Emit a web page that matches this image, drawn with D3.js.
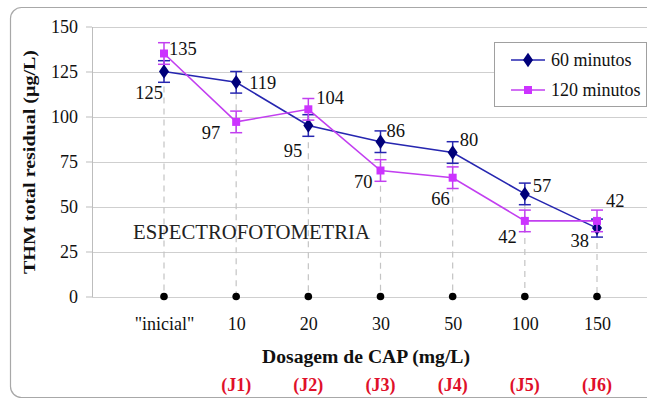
<!DOCTYPE html>
<html>
<head>
<meta charset="utf-8">
<script src="https://cdn.jsdelivr.net/npm/d3@7/dist/d3.min.js"></script>
<style>
  html, body { margin: 0; padding: 0; background: #fff; }
  svg { display: block; }
  svg text { font-family: "Liberation Serif", "Times New Roman", serif !important; }
</style>
</head>
<body>
<svg id="chart" width="647" height="401"></svg>
<script>
// Categories (CAP dosage) and their jar codes
const categories = ['"inicial"', "10", "20", "30", "50", "100", "150"];
const jarCodes = ["", "(J1)", "(J2)", "(J3)", "(J4)", "(J5)", "(J6)"];

// Residual total THM (µg/L) after each contact time
const series60 = [125, 119, 95, 86, 80, 57, 38];
const series120 = [135, 97, 104, 70, 66, 42, 42];

// Error bar half-widths (µg/L)
const err60 = [6, 6, 6, 6, 6, 6, 5];
const err120 = [6, 6, 6, 6, 6, 6, 6];

const yTicks = [0, 25, 50, 75, 100, 125, 150];
const legendNames = ["60 minutos", "120 minutos"];

// Label placement for each value: [dx, dy, anchor]
const place60 = [[-1, 27.5, "end"], [13, 7, "start"], [-6, 31, "end"], [6, -5, "start"], [7, -6.5, "start"], [8, -2, "start"], [-8, 19, "end"]];
const place120 = [[5, 1.5, "start"], [-16, 17, "end"], [8, -5, "start"], [-8, 17.5, "end"], [-3, 27, "end"], [-8, 22, "end"], [9, -14, "start"]];

const SERIF = "'Liberation Serif', 'Times New Roman', serif";
const svg = d3.select("#chart");

// Outer frame with rounded corners
svg.append("rect")
  .attr("x", 10.5).attr("y", 7.5)
  .attr("width", 700).attr("height", 390)
  .attr("rx", 11).attr("ry", 11)
  .attr("fill", "none").attr("stroke", "#a8a8a8").attr("stroke-width", 1.2);

const plotLeft = 92, plotRight = 647;
const x = d3.scalePoint().domain(categories).range([164, 597]);
const y = d3.scaleLinear().domain([0, 150]).range([296.5, 26.5]);

// Horizontal gridlines
svg.append("g").selectAll("line").data(yTicks).join("line")
  .attr("x1", plotLeft).attr("x2", plotRight)
  .attr("y1", d => Math.round(y(d)) + 0.5).attr("y2", d => Math.round(y(d)) + 0.5)
  .attr("stroke", "#cfcfcf").attr("stroke-width", 1.2);

// Y axis
const yAxis = d3.axisLeft(y).tickValues(yTicks).tickSize(6).tickPadding(8).tickSizeOuter(0);
const gY = svg.append("g").attr("transform", `translate(${plotLeft},0)`).call(yAxis);
gY.attr("font-family", SERIF);
gY.select(".domain").attr("stroke", "#bdbdbd");
gY.selectAll(".tick line").attr("stroke", "#bdbdbd");
gY.selectAll(".tick text").style("font-family", SERIF)
  .attr("font-size", 18).attr("fill", "#111");

// X axis labels
const xAxis = d3.axisBottom(x).tickSize(0).tickPadding(21);
const gX = svg.append("g").attr("transform", `translate(0,${y(0)})`).call(xAxis);
gX.attr("font-family", SERIF);
gX.select(".domain").remove();
gX.selectAll(".tick text").style("font-family", SERIF)
  .attr("font-size", 18).attr("fill", "#111");

// Dashed drop lines from each category's highest value to the axis
svg.append("g").selectAll("line").data(categories).join("line")
  .attr("x1", d => x(d)).attr("x2", d => x(d))
  .attr("y1", (d, i) => y(Math.max(series60[i], series120[i])))
  .attr("y2", y(0))
  .attr("stroke", "#c4c4c4").attr("stroke-width", 1.2)
  .attr("stroke-dasharray", "6,5");

// Black reference dots on the axis
svg.append("g").selectAll("circle").data(categories).join("circle")
  .attr("cx", d => x(d)).attr("cy", y(0)).attr("r", 3.8)
  .attr("fill", "#000");

const col60 = "#2626b0", mark60 = "#00007a";
const col120 = "#c23ff0", mark120 = "#cc33ff";

function marker(shape) {
  return d3.symbol().type(shape).size(shape === d3.symbolSquare ? 64 : 66)();
}

function drawSeries(values, errs, lineColor, markColor, shape) {
  const g = svg.append("g");
  // error bars
  values.forEach((v, i) => {
    const cx = x(categories[i]);
    const y1 = y(v + errs[i]), y2 = y(v - errs[i]);
    g.append("line").attr("x1", cx).attr("x2", cx).attr("y1", y1).attr("y2", y2)
      .attr("stroke", lineColor).attr("stroke-width", 1.5);
    [y1, y2].forEach(yy => g.append("line")
      .attr("x1", cx - 6).attr("x2", cx + 6).attr("y1", yy).attr("y2", yy)
      .attr("stroke", lineColor).attr("stroke-width", 1.5));
  });
  // connecting line
  const line = d3.line().x((d, i) => x(categories[i])).y(d => y(d));
  g.append("path").datum(values).attr("d", line)
    .attr("fill", "none").attr("stroke", lineColor).attr("stroke-width", 1.6);
  // markers
  g.selectAll("path.m").data(values).join("path").attr("class", "m")
    .attr("d", marker(shape))
    .attr("transform", (d, i) => `translate(${x(categories[i])},${y(d)})` + (shape === d3.symbolSquare ? "" : " scale(1.15,0.95)"))
    .attr("fill", markColor);
}

drawSeries(series60, err60, col60, mark60, d3.symbolDiamond);
drawSeries(series120, err120, col120, mark120, d3.symbolSquare);

// Value labels
function drawLabels(values, placement) {
  svg.append("g").selectAll("text").data(values).join("text")
    .attr("x", (d, i) => x(categories[i]) + placement[i][0])
    .attr("y", (d, i) => y(d) + placement[i][1])
    .attr("text-anchor", (d, i) => placement[i][2])
    .style("font-family", SERIF)
    .attr("font-size", 18.5).attr("fill", "#111")
    .text(d => d);
}
drawLabels(series60, place60);
drawLabels(series120, place120);

// Method annotation
svg.append("text").attr("x", 133).attr("y", 239)
  .style("font-family", SERIF)
  .attr("font-size", 20.5).attr("fill", "#222")
  .attr("textLength", 237).attr("lengthAdjust", "spacingAndGlyphs")
  .text("ESPECTROFOTOMETRIA");

// Legend
const lg = svg.append("g");
lg.append("rect").attr("x", 494.5).attr("y", 42.5).attr("width", 152).attr("height", 64)
  .attr("fill", "#fff").attr("stroke", "#a0a0a0").attr("stroke-width", 1);
[[col60, mark60, d3.symbolDiamond], [col120, mark120, d3.symbolSquare]].forEach((s, i) => {
  const ly = 60 + i * 30;
  lg.append("line").attr("x1", 511).attr("x2", 545).attr("y1", ly).attr("y2", ly)
    .attr("stroke", s[0]).attr("stroke-width", 1.6);
  lg.append("path")
    .attr("d", marker(s[2]))
    .attr("transform", `translate(528,${ly})` + (s[2] === d3.symbolSquare ? "" : " scale(1.15,0.95)"))
    .attr("fill", s[1]);
  lg.append("text").attr("x", 551).attr("y", ly + 6)
    .style("font-family", SERIF)
    .attr("font-size", 18).attr("fill", "#111").text(legendNames[i]);
});

// Axis titles
svg.append("text")
  .attr("transform", "translate(35,162) rotate(-90)")
  .attr("text-anchor", "middle").attr("font-weight", "bold")
  .style("font-family", SERIF)
  .attr("font-size", 17).attr("fill", "#111")
  .attr("textLength", 224).attr("lengthAdjust", "spacingAndGlyphs")
  .text("THM total residual (µg/L)");

svg.append("text")
  .attr("x", 366).attr("y", 363)
  .attr("text-anchor", "middle").attr("font-weight", "bold")
  .style("font-family", SERIF)
  .attr("font-size", 18).attr("fill", "#111")
  .attr("textLength", 208).attr("lengthAdjust", "spacingAndGlyphs")
  .text("Dosagem de CAP (mg/L)");

// Jar codes under each dosage
svg.append("g").selectAll("text").data(categories).join("text")
  .attr("x", d => x(d)).attr("y", 391)
  .attr("text-anchor", "middle").attr("font-weight", "bold")
  .style("font-family", SERIF)
  .attr("font-size", 18).attr("fill", "#e0102a")
  .text((d, i) => jarCodes[i]);
</script>
</body>
</html>
